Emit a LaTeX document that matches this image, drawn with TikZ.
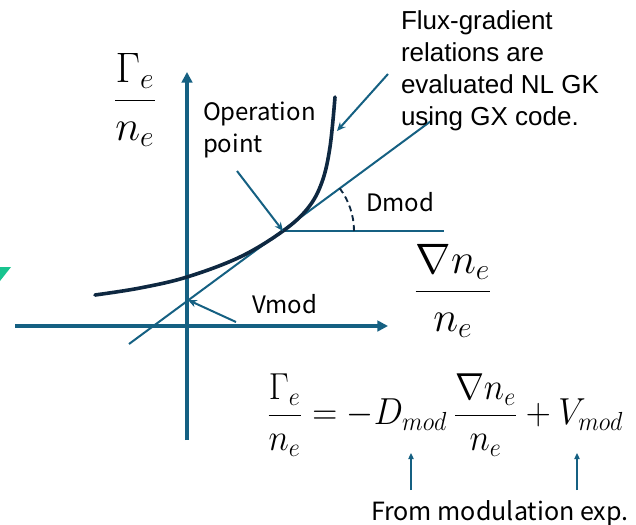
\documentclass[tikz,border=0pt]{standalone}
\usepackage{graphicx}
\usepackage{fontspec}
\newfontfamily\arialfont{Liberation Sans}
\newfontfamily\gothfont{Noto Sans CJK JP}
\usetikzlibrary{arrows.meta, positioning}
\definecolor{axBlue}{HTML}{156082}
\definecolor{curveDark}{HTML}{0E2841}
\definecolor{markGreen}{HTML}{18C48F}
% large math, scaled up from the biggest cm size
\newcommand{\bigmath}[1]{\scalebox{1.54}{\fontsize{20.74}{25}\selectfont$\displaystyle #1$}}
\newcommand{\eqmath}[1]{\scalebox{1.255}[1.36]{\fontsize{20.74}{25}\selectfont$\displaystyle #1$}}
\tikzset{
  % pixel-like units, y running down
  every picture/.append style = {line width=1.5pt},
  axisline/.style  = {-{Triangle[length=2.8mm, width=2.8mm]}, line width=2.3pt, axBlue},
  tanline/.style   = {axBlue, line width=1.5pt},
  fluxcurve/.style = {curveDark, line width=2.7pt, line cap=round},
  pointer/.style   = {-{Stealth[length=2.3mm, width=2mm]}, axBlue, line width=1.5pt},
  uparrow/.style   = {-{Triangle[length=1.6mm, width=1.4mm]}, axBlue, line width=1.1pt},
  glbl/.style      = {font=\gothfont\fontsize{18}{24}\selectfont, inner sep=0pt, align=left},
  albl/.style      = {font=\arialfont\fontsize{19.5}{24}\selectfont, inner sep=0pt, align=left},
  mlbl/.style      = {inner sep=0pt},
}

\begin{document}
\begin{tikzpicture}[x=0.75pt, y=-0.75pt,
    anglemark/.style={curveDark, line width=1.4pt, dash pattern=on 4.5pt off 3pt}]
  \useasboundingbox (0,0) rectangle (636,525);
  % small marker at the left edge
  \fill[markGreen] (0,267) -- (11,267) -- (0,281) -- cycle;
  % axes
  \coordinate (yfoot) at (187,440);
  \coordinate (ytop)  at (187,72);
  \coordinate (xfoot) at (15,326);
  \coordinate (xtop)  at (388,326);
  \draw[axisline] (yfoot) -- (ytop);
  \draw[axisline] (xfoot) -- (xtop);
  % operation point, tangent and horizontal reference
  \coordinate (op)   at (283,231);
  \coordinate (tlo)  at (129,344);
  \coordinate (thi)  at (431,121);
  \coordinate (href) at (444,231);
  \coordinate (vint) at (188,300);
  \draw[tanline] (tlo) -- (thi);
  \draw[tanline] (op) -- (href);
  \draw[anglemark] (op) ++(0:71) arc[start angle=0, end angle=-37, radius=71];
  % flux curve
  \draw[fluxcurve] plot[smooth, tension=0.6] coordinates
    {(95,295) (140,288) (187,277) (240,257) (283,231) (308,208) (322,182) (330,147) (335,97)};
  % axis labels
  \node[mlbl] (gamlbl)  at (135,100) {\bigmath{\frac{\Gamma_e}{n_e}}};
  \node[mlbl] (gradlbl) at (453,291) {\bigmath{\frac{\nabla n_e}{n_e}}};
  % annotations
  \node[albl, anchor=north west] (fluxtxt) at (400,10)
    {Flux-gradient\\relations are\\evaluated NL GK\\using GX code.};
  \node[glbl, anchor=north west] (optxt) at (202,101) {Operation\\point};
  \node[glbl, anchor=west] (dmodtxt) at (365,202) {Dmod};
  \node[glbl, anchor=west] (vmodtxt) at (251,304) {Vmod};
  \coordinate (fluxtail) at (388,74);
  \coordinate (fluxhit)  at (337,131);
  \coordinate (optail)   at (237,171);
  \coordinate (vtail)    at (236,322);
  \draw[pointer] (fluxtail) -- (fluxhit);
  \draw[pointer] (optail) -- (op);
  \draw[pointer] (vtail) -- (vint);
  % model equation
  \node[mlbl] (eqn) at (445,415)
    {\eqmath{\frac{\Gamma_e}{n_e} = -D_{mod}\,\frac{\nabla n_e}{n_e} + V_{mod}}};
  \node[glbl, anchor=west, font=\gothfont\fontsize{18.8}{24}\selectfont] (fromtxt) at (370,513) {From modulation exp.};
  \coordinate (dtail) at (411,490);
  \coordinate (dtip)  at (411,453);
  \coordinate (vvtail) at (577,490);
  \coordinate (vvtip)  at (577,453);
  \draw[uparrow] (dtail) -- (dtip);
  \draw[uparrow] (vvtail) -- (vvtip);
\end{tikzpicture}
\end{document}
